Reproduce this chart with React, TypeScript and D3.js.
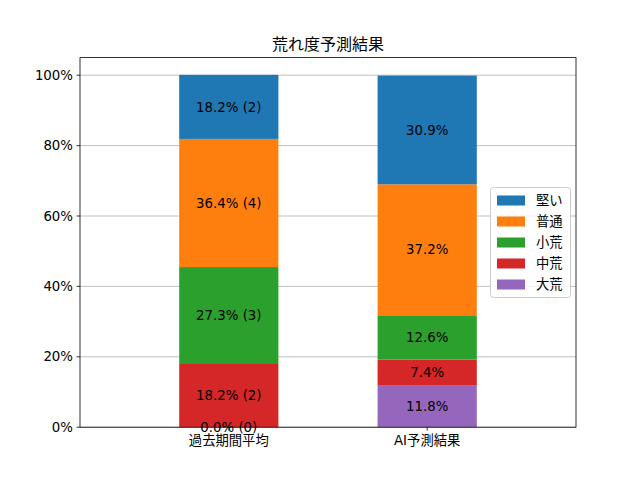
import React from 'react';
import * as d3 from 'd3';

// カテゴリと系列
const categories = ['過去期間平均', 'AI予測結果'];
const seriesNames = ['大荒', '中荒', '小荒', '普通', '堅い'];
const seriesColors = ['#9467bd', '#d62728', '#2ca02c', '#ff7f0e', '#1f77b4'];
const pastValues = [0.0, 18.2, 27.3, 36.4, 18.2];
const pastCounts = [0, 2, 3, 4, 2];
const aiValues = [11.8, 7.4, 12.6, 37.2, 30.9];
const yTicks = [0, 20, 40, 60, 80, 100];

const W = 640;
const H = 480;
const left = 80;
const right = 576;
const top = 57.6;
const bottom = 427.2;
const font = '"DejaVu Sans", "Noto Sans CJK JP", sans-serif';

const App: React.FC = () => {
  const x = d3.scaleLinear().domain([-0.75, 1.75]).range([left, right]);
  const y = d3.scaleLinear().domain([0, 105]).range([bottom, top]);
  const barW = x(0.5) - x(0);

  const rows = [pastValues, aiValues];
  const stacked = rows.map((vals) => {
    let acc = 0;
    return vals.map((v) => {
      const y0 = acc;
      acc += v;
      return [y0, acc];
    });
  });

  const label = (ci: number, si: number) => {
    const v = rows[ci][si];
    return ci === 0 ? `${v.toFixed(1)}% (${pastCounts[si]})` : `${v.toFixed(1)}%`;
  };

  const legendOrder = [...seriesNames.keys()].reverse();

  return (
    <svg width={W} height={H} style={{ position: 'absolute', left: 0, top: 0 }} fontFamily={font}>
      <rect width={W} height={H} fill="#fff" />
      {yTicks.map((t) => (
        <line key={t} x1={left} x2={right} y1={y(t)} y2={y(t)} stroke="#b0b0b0" strokeWidth={0.8} />
      ))}
      {categories.map((c, ci) =>
        stacked[ci].map(([a, b], si) => (
          <rect
            key={`${c}-${si}`}
            x={x(ci) - barW / 2}
            width={barW}
            y={y(b)}
            height={y(a) - y(b)}
            fill={seriesColors[si]}
          />
        ))
      )}
      {categories.map((c, ci) =>
        stacked[ci].map(([a, b], si) => (
          <text
            key={`t-${c}-${si}`}
            x={x(ci)}
            y={y((a + b) / 2)}
            dy="0.35em"
            textAnchor="middle"
            fontSize={13.33}
            fill="#000"
          >
            {label(ci, si)}
          </text>
        ))
      )}
      <rect x={left} y={top} width={right - left} height={bottom - top} fill="none" stroke="#000" strokeWidth={0.8} />
      {yTicks.map((t) => (
        <g key={`yt-${t}`}>
          <line x1={left - 3.5} x2={left} y1={y(t)} y2={y(t)} stroke="#000" strokeWidth={0.8} />
          <text x={left - 7} y={y(t)} dy="0.35em" textAnchor="end" fontSize={13.33}>
            {`${t}%`}
          </text>
        </g>
      ))}
      {categories.map((c, ci) => (
        <g key={`xt-${c}`}>
          <line x1={x(ci)} x2={x(ci)} y1={bottom} y2={bottom + 3.5} stroke="#000" strokeWidth={0.8} />
          <text x={x(ci)} y={bottom + 7} dy="0.8em" textAnchor="middle" fontSize={13.33}>
            {c}
          </text>
        </g>
      ))}
      <text x={(left + right) / 2} y={top - 8} textAnchor="middle" fontSize={16}>
        荒れ度予測結果
      </text>
      <g>
        <rect x={490.5} y={187.5} width={80} height={110} rx={3} fill="#fff" fillOpacity={0.8} stroke="#cccccc" />
        {legendOrder.map((si, i) => (
          <g key={`lg-${si}`} transform={`translate(0,${200 + i * 21})`}>
            <rect x={497} y={-4.5} width={28} height={10} fill={seriesColors[si]} />
            <text x={536} y={0} dy="0.35em" fontSize={13.33}>
              {seriesNames[si]}
            </text>
          </g>
        ))}
      </g>
    </svg>
  );
};

export default App;
